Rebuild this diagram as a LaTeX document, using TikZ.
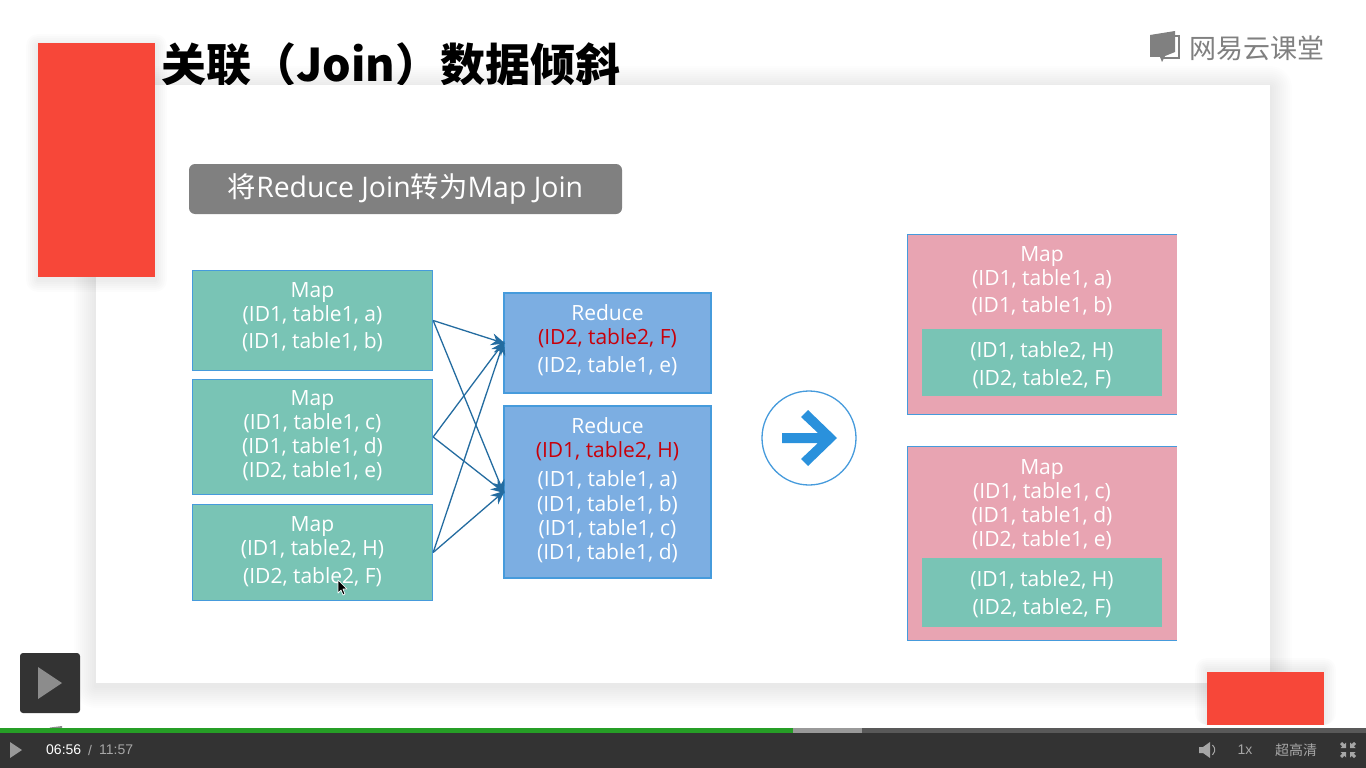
\documentclass[tikz,border=0pt]{standalone}
\usepackage{fontspec}
\usepackage{xcolor}
\usetikzlibrary{arrows.meta}
\setmainfont{Open Sans}
\newfontfamily\cjk{Noto Sans CJK SC}
\newfontfamily\playerfont{Liberation Sans}
\definecolor{boxgreen}{RGB}{121, 196, 181}
\definecolor{boxblue}{RGB}{124, 174, 226}
\definecolor{boxpink}{RGB}{232, 164, 178}
\definecolor{edgeblue}{RGB}{70, 155, 220}
\definecolor{arrowblue}{RGB}{36, 108, 160}
\definecolor{turnblue}{RGB}{42, 145, 220}
\definecolor{coverred}{RGB}{247, 71, 57}
\definecolor{keyred}{RGB}{200, 0, 10}
\definecolor{barblack}{RGB}{51, 51, 51}
\definecolor{logogrey}{RGB}{128, 128, 128}

\begin{document}
\begin{tikzpicture}[x=1pt, y=-1pt,
            mapbox/.style = {draw=edgeblue, fill=boxgreen, line width=1.3pt, minimum width=240pt, inner sep=0pt},
            reducebox/.style = {draw=edgeblue, fill=boxblue, line width=1.3pt, minimum width=207pt, inner sep=0pt},
            pinkbox/.style = {fill=boxpink, minimum width=269pt, inner sep=0pt},
            innerbox/.style = {fill=boxgreen, minimum width=240pt, inner sep=0pt},
            boxtext/.style = {text=white, anchor=north, align=center, inner sep=0pt, font=\fontsize{21}{24}\selectfont},
            link/.style = {-{Stealth[length=14pt, width=12pt]}, draw=arrowblue, line width=1.3pt, shorten >=-2pt},
            playertext/.style = {text=white!65!black, inner sep=0pt, font=\fontsize{14}{16}\playerfont}]
        \useasboundingbox (0,0) rectangle (1366,768);
        \fill[white] (0,0) rectangle (1366,768);

        % title and logo
        \node[anchor=west, inner sep=0pt, font=\fontsize{45}{50}\cjk\bfseries] (title) at (161,64.5) {关联（Join）数据倾斜};
        \node[anchor=west, inner sep=0pt, text=logogrey, font=\fontsize{27}{30}\cjk\selectfont] (logotext) at (1189,48) {网易云课堂};
        \fill[logogrey] (1150,35) -- (1175,31) -- (1175,52) -- (1165,56) -- (1162,62) -- (1160,57) -- (1150,57) -- cycle;
        \draw[logogrey, line width=1.3pt] (1175,36) -- (1179,36) -- (1179,58) -- (1163,58);

        % card
        \foreach \d in {2,4,...,22} {
            \fill[black, opacity=0.007, rounded corners=\d pt] (96-\d,85-\d+3) rectangle (1270+\d,683+\d+3);
        }
        \fill[white] (96,85) rectangle (1270,683);

        % red covers
        \foreach \d in {2,4,...,12} {
            \fill[black, opacity=0.012, rounded corners=\d pt] (38-\d,43-\d+3) rectangle (155+\d,277+\d+3);
            \fill[black, opacity=0.012, rounded corners=\d pt] (1207-\d,672-\d-2) rectangle (1324+\d,725);
        }
        \fill[coverred] (38,43) rectangle (155,277);
        \fill[coverred] (1207,672) rectangle (1324,725);

        \node[fill=logogrey, rounded corners=6pt, minimum width=433pt, minimum height=50pt, inner sep=0pt, text=white, font=\fontsize{28.4}{30}\selectfont] (banner) at (405.5,189) {{\cjk 将}Reduce Join{\cjk 转为}Map Join};

        % left part
        \node[mapbox, minimum height=100pt] (mapA) at (312.5,320.5) {};
        \node[mapbox, minimum height=115pt] (mapB) at (312.5,437) {};
        \node[mapbox, minimum height=96pt] (mapC) at (312.5,552.5) {};
        \node[reducebox, minimum height=100pt] (reduceA) at (607.5,343) {};
        \node[reducebox, minimum height=172pt] (reduceB) at (607.5,492) {};

        \node[boxtext] (mapAtext) at (312.5,282) {Map\\(ID1, table1, a)\\[3pt](ID1, table1, b)};
        \node[boxtext] (mapBtext) at (312.5,390) {Map\\(ID1, table1, c)\\(ID1, table1, d)\\(ID2, table1, e)};
        \node[boxtext] (mapCtext) at (312.5,516) {Map\\(ID1, table2, H)\\[4pt](ID2, table2, F)};
        \node[boxtext] (reduceAtext) at (607.5,304) {Reduce\\\textcolor{keyred}{(ID2, table2, F)}\\[4pt](ID2, table1, e)};
        \node[boxtext] (reduceBtext) at (607.5,417) {Reduce\\\textcolor{keyred}{(ID1, table2, H)}\\[5pt](ID1, table1, a)\\[1pt](ID1, table1, b)\\(ID1, table1, c)\\(ID1, table1, d)};

        \draw[link] (mapA.east) -- (reduceA.west);
        \draw[link] (mapA.east) -- (reduceB.west);
        \draw[link] (mapB.east) -- (reduceA.west);
        \draw[link] (mapB.east) -- (reduceB.west);
        \draw[link] (mapC.east) -- (reduceA.west);
        \draw[link] (mapC.east) -- (reduceB.west);

        % turn arrow
        \node[circle, draw=edgeblue, line width=1.3pt, minimum size=94pt, inner sep=0pt] (turn) at (809,438) {};
        \fill[turnblue] (782,433) -- (818,433) -- (801,417) -- (808,410) -- (837,438) -- (808,466) -- (801,459) -- (818,443) -- (782,443) -- cycle;

        % right part
        \node[pinkbox, minimum height=179pt] (joinA) at (1042.5,324.5) {};
        \node[pinkbox, minimum height=193pt] (joinB) at (1042.5,543.5) {};
        \draw[edgeblue, line width=1.3pt] (joinA.north east) -- (joinA.north west) -- (joinA.south west) -- (joinA.south east);
        \draw[edgeblue, line width=1.3pt] (joinB.north east) -- (joinB.north west) -- (joinB.south west) -- (joinB.south east);
        \node[innerbox, minimum height=67pt] (smallA) at (1042,362.5) {};
        \node[innerbox, minimum height=69pt] (smallB) at (1042,592.5) {};

        \node[boxtext] (joinAtext) at (1042,246) {Map\\(ID1, table1, a)\\[3pt](ID1, table1, b)};
        \node[boxtext] (smallAtext) at (1042,341) {(ID1, table2, H)\\[4pt](ID2, table2, F)};
        \node[boxtext] (joinBtext) at (1042,459) {Map\\(ID1, table1, c)\\(ID1, table1, d)\\(ID2, table1, e)};
        \node[boxtext] (smallBtext) at (1042,570) {(ID1, table2, H)\\[4pt](ID2, table2, F)};

        % mouse pointer
        \draw[white, fill=black, line width=0.7pt, line join=round] (338,580) -- (338,593) -- (341,590) -- (343,595) -- (345,594) -- (343,589) -- (347,589) -- cycle;

        % player
        \fill[barblack, rounded corners=3pt] (20,653) rectangle (80,713);
        \fill[white!55!black] (38,667) -- (62,683) -- (38,699) -- cycle;
        \fill[black!45] (47,733) -- (50,727.5) -- (62,726) -- (62,733) -- cycle;
        \fill[black!45] (216,733) arc[start angle=180, end angle=0, radius=11] -- cycle;
        \fill[barblack] (0,732) rectangle (1366,768);
        \fill[black!65] (0,728) rectangle (1366,733);
        \fill[black!40] (793,728) rectangle (862,733);
        \fill[green!55!black!85!white] (0,728) rectangle (793,733);
        \fill[white!60!black] (10,742) -- (22,750) -- (10,758) -- cycle;
        \node[playertext, anchor=west, text=white] (now) at (46,750) {06:56};
        \node[playertext, anchor=west] (slash) at (88,750) {/};
        \node[playertext, anchor=west] (total) at (99,750) {11:57};
        \node[playertext, anchor=center] (speed) at (1245,750) {1x};
        \node[playertext, anchor=center, font=\fontsize{14}{16}\cjk] (quality) at (1296,750) {超高清};
        \fill[white!65!black] (1199,747) -- (1203,747) -- (1210,742) -- (1210,758) -- (1203,753) -- (1199,753) -- cycle;
        \draw[white!65!black, line width=1pt] (1212.5,745) arc[start angle=-50, end angle=50, radius=6.5];
        \foreach \sx/\sy in {1/1,-1/1,1/-1,-1/-1} {
            \fill[white!65!black, shift={(1348,750)}, xscale=\sx, yscale=\sy] (2,2) -- (7.5,2) -- (5.8,3.7) -- (8,6) -- (6,8) -- (3.7,5.8) -- (2,7.5) -- cycle;
        }
        \end{tikzpicture}
\end{document}
